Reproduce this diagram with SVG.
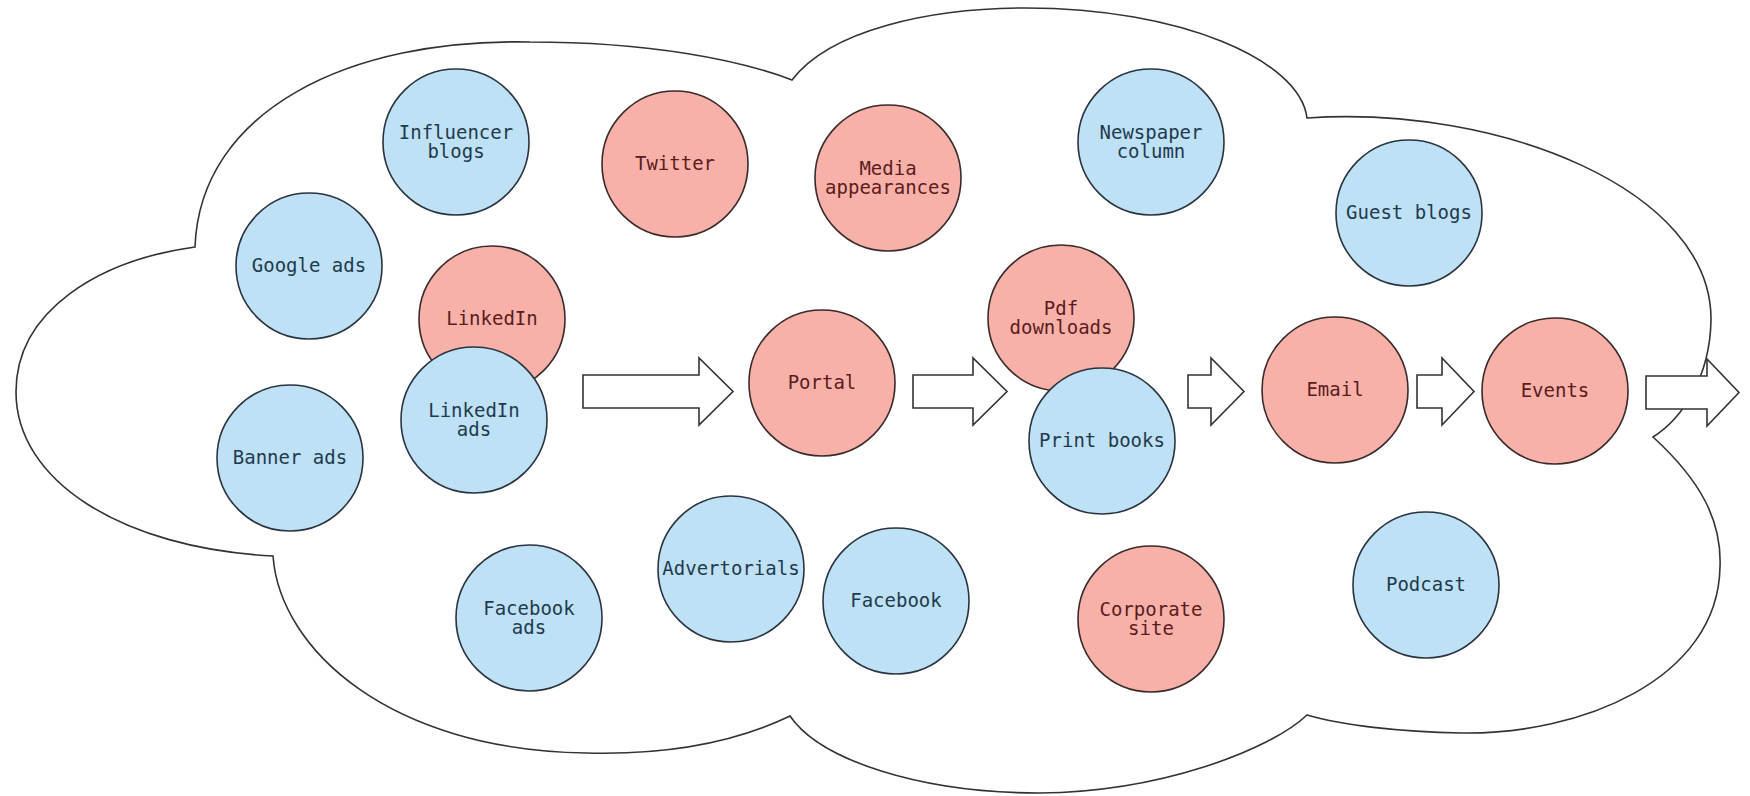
<svg xmlns="http://www.w3.org/2000/svg" width="1750" height="796" viewBox="0 0 1750 796">
<style>
.cloud{fill:#fff;stroke:#333;stroke-width:1.6}
.arrow{fill:#fff;stroke:#333;stroke-width:1.6;stroke-linejoin:miter}
.blue circle{fill:#bfe1f5;stroke:#2a3440;stroke-width:1.6}
.pink circle{fill:#f8b1a9;stroke:#3a2a2a;stroke-width:1.6}
text{font-family:"DejaVu Sans Mono","Liberation Mono",monospace;font-size:19px;text-anchor:middle}
.blue text{fill:#1e3a4e}
.pink text{fill:#5a1c1c}
</style>
<rect width="1750" height="796" fill="#fff"/>
<g id="cloud">
<path class="cloud" d="M195,247 C200,110 350,38 530,42 C650,42 740,60 792,80 C830,30 930,8 1026,8 C1180,8 1300,60 1307,118 C1500,105 1712,190 1711,320 C1710,380 1680,420 1653,437 C1700,480 1722,520 1720,567 C1718,680 1580,735 1461,733 C1400,732 1340,725 1307,715 C1270,750 1160,792 1040,793 C920,793 820,760 790,716 C730,745 660,755 586,753 C390,750 280,650 273,556 C120,548 16,480 16,392 C16,310 100,260 195,247 Z"/>
</g>
<g id="n-influencer" class="blue"><circle cx="456" cy="142" r="73"/><text x="456" y="139">Influencer</text><text x="456" y="158">blogs</text></g>
<g id="n-twitter" class="pink"><circle cx="675" cy="164" r="73"/><text x="675" y="170">Twitter</text></g>
<g id="n-media" class="pink"><circle cx="888" cy="178" r="73"/><text x="888" y="175">Media</text><text x="888" y="194">appearances</text></g>
<g id="n-newspaper" class="blue"><circle cx="1151" cy="142" r="73"/><text x="1151" y="139">Newspaper</text><text x="1151" y="158">column</text></g>
<g id="n-guest" class="blue"><circle cx="1409" cy="213" r="73"/><text x="1409" y="219">Guest blogs</text></g>
<g id="n-google" class="blue"><circle cx="309" cy="266" r="73"/><text x="309" y="272">Google ads</text></g>
<g id="n-linkedin" class="pink"><circle cx="492" cy="319" r="73"/><text x="492" y="325">LinkedIn</text></g>
<g id="n-linkedin-ads" class="blue"><circle cx="474" cy="420" r="73"/><text x="474" y="417">LinkedIn</text><text x="474" y="436">ads</text></g>
<g id="n-banner" class="blue"><circle cx="290" cy="458" r="73"/><text x="290" y="464">Banner ads</text></g>
<g id="n-portal" class="pink"><circle cx="822" cy="383" r="73"/><text x="822" y="389">Portal</text></g>
<g id="n-pdf" class="pink"><circle cx="1061" cy="318" r="73"/><text x="1061" y="315">Pdf</text><text x="1061" y="334">downloads</text></g>
<g id="n-print" class="blue"><circle cx="1102" cy="441" r="73"/><text x="1102" y="447">Print books</text></g>
<g id="n-email" class="pink"><circle cx="1335" cy="390" r="73"/><text x="1335" y="396">Email</text></g>
<g id="n-events" class="pink"><circle cx="1555" cy="391" r="73"/><text x="1555" y="397">Events</text></g>
<g id="n-facebook-ads" class="blue"><circle cx="529" cy="618" r="73"/><text x="529" y="615">Facebook</text><text x="529" y="634">ads</text></g>
<g id="n-advertorials" class="blue"><circle cx="731" cy="569" r="73"/><text x="731" y="575">Advertorials</text></g>
<g id="n-facebook" class="blue"><circle cx="896" cy="601" r="73"/><text x="896" y="607">Facebook</text></g>
<g id="n-corporate" class="pink"><circle cx="1151" cy="619" r="73"/><text x="1151" y="616">Corporate</text><text x="1151" y="635">site</text></g>
<g id="n-podcast" class="blue"><circle cx="1426" cy="585" r="73"/><text x="1426" y="591">Podcast</text></g>
<g id="connectors">
<path class="arrow" d="M583,375 H699 V358 L733,391.5 L699,425 V408 H583 Z"/>
<path class="arrow" d="M913,375 H973 V358 L1007,391.5 L973,425 V408 H913 Z"/>
<path class="arrow" d="M1188,375 H1211 V358 L1244,391.5 L1211,425 V408 H1188 Z"/>
<path class="arrow" d="M1417,375 H1442 V358 L1474,391.5 L1442,425 V408 H1417 Z"/>
<path class="arrow" d="M1646,376 H1707 V359 L1739,392.5 L1707,426 V409 H1646 Z"/>
</g>
</svg>
